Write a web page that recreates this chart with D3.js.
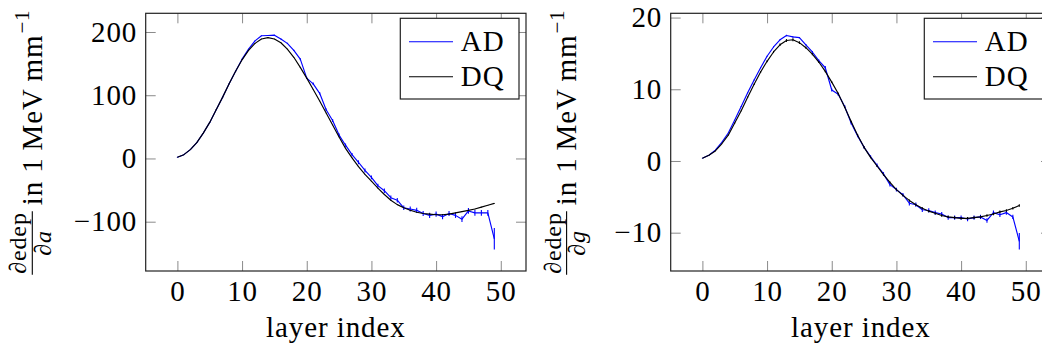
<!DOCTYPE html>
<html>
<head>
<meta charset="utf-8">
<script src="https://cdn.jsdelivr.net/npm/d3@7"></script>
<style>
  html, body { margin: 0; padding: 0; background: #fff; }
  svg { display: block; font-family: "Liberation Serif", "DejaVu Serif", serif; }
  text { letter-spacing: 0.9px; }
</style>
</head>
<body>
<svg id="chart" width="1042" height="351"></svg>
<script>
// Layer indices along the calorimeter
const layerIndex = d3.range(0, 50);

// Derivative of deposited energy w.r.t. parameter a
const adA = [2, 6, 14, 25, 40, 57, 77, 97, 118, 138,
             157, 173, 186, 194, 194.5, 195, 189, 182, 171, 157,
             127, 118, 103, 77, 60, 37, 21, 6, -6, -19,
             -30, -43, -51, -62, -66, -78, -80, -82, -87, -90,
             -88, -92, -87, -90, -96, -83, -86, -86, -86, -127];
const adAErr = [0.3, 0.3, 0.3, 0.4, 0.4, 0.5, 0.5, 0.5, 0.6, 0.6,
                0.6, 0.6, 0.6, 0.6, 0.6, 0.6, 0.8, 1, 1, 1.5,
                1.5, 2, 2, 2, 2.5, 2.5, 2.5, 2.5, 3, 3,
                3, 3, 3.5, 3.5, 3.5, 3.5, 4, 4, 4, 4,
                4, 4, 4, 4, 4.5, 4.5, 4.5, 4.5, 4.5, 17];
const dqA = [2, 6, 14, 25, 40, 57, 77, 97, 118, 138,
             156, 171, 182, 189, 191, 189, 183, 173, 160, 144,
             127, 109, 91, 72, 53, 34, 16, 1, -13, -25,
             -36, -47, -57, -66, -73, -78, -82, -85, -87, -88,
             -89, -89, -88, -86, -84, -82, -80, -77, -74, -71];
const dqAErr = [0.2, 0.2, 0.2, 0.2, 0.3, 0.3, 0.3, 0.3, 0.3, 0.3,
                0.4, 0.4, 0.4, 0.4, 0.4, 0.4, 0.4, 0.4, 0.4, 0.4,
                0.4, 0.4, 0.4, 0.4, 0.4, 0.4, 0.4, 0.4, 0.4, 0.4,
                0.5, 0.5, 0.5, 0.5, 0.5, 0.5, 0.5, 0.5, 0.5, 0.5,
                0.5, 0.5, 0.5, 0.5, 0.5, 0.5, 0.5, 0.5, 0.5, 0.5];

// Derivative of deposited energy w.r.t. parameter g
const adG = [0.37, 0.8, 1.5, 2.6, 3.9, 5.7, 7.6, 9.5, 11.3, 13.0,
             14.6, 15.9, 16.9, 17.5, 17.3, 17.2, 16.2, 15.2, 14.0, 13.0,
             9.9, 9.3, 7.6, 5.3, 3.5, 1.9, 0.6, -0.6, -1.8, -3.3,
             -4.0, -4.7, -5.9, -6.1, -6.8, -6.9, -7.2, -7.4, -7.9, -7.9,
             -7.9, -8.1, -7.9, -7.8, -8.3, -7.2, -7.5, -7.2, -7.8, -11.2];
const adGErr = [0.02, 0.03, 0.03, 0.04, 0.05, 0.05, 0.06, 0.06, 0.07, 0.07,
                0.08, 0.08, 0.08, 0.1, 0.1, 0.1, 0.1, 0.15, 0.15, 0.25,
                0.2, 0.2, 0.2, 0.2, 0.2, 0.2, 0.2, 0.25, 0.25, 0.25,
                0.25, 0.25, 0.3, 0.3, 0.3, 0.3, 0.3, 0.3, 0.3, 0.3,
                0.3, 0.3, 0.3, 0.3, 0.3, 0.3, 0.3, 0.3, 0.3, 1.15];
const dqG = [0.37, 0.8, 1.4, 2.4, 3.6, 5.3, 7.0, 8.9, 10.7, 12.4,
             13.9, 15.2, 16.2, 16.8, 16.9, 16.5, 15.8, 14.9, 13.8, 12.5,
             11.0, 9.4, 7.5, 5.5, 3.6, 1.9, 0.5, -0.7, -1.9, -3.0,
             -4.0, -4.8, -5.5, -6.1, -6.6, -7.0, -7.3, -7.6, -7.8, -7.9,
             -8.0, -8.0, -7.9, -7.8, -7.6, -7.4, -7.1, -6.9, -6.6, -6.2];
const dqGErr = [0.02, 0.03, 0.04, 0.05, 0.06, 0.07, 0.08, 0.09, 0.1, 0.12,
                0.14, 0.15, 0.18, 0.2, 0.2, 0.18, 0.15, 0.15, 0.12, 0.12,
                0.12, 0.12, 0.12, 0.12, 0.12, 0.12, 0.12, 0.12, 0.12, 0.12,
                0.12, 0.12, 0.14, 0.15, 0.15, 0.16, 0.16, 0.17, 0.17, 0.18,
                0.18, 0.18, 0.18, 0.18, 0.18, 0.18, 0.18, 0.18, 0.18, 0.18];

const xTicks = [0, 10, 20, 30, 40, 50];
const yTicksA = [-100, 0, 100, 200];
const yTicksG = [-10, 0, 10, 20];
const seriesNames = ["AD", "DQ"];
const seriesColors = ["#0000ff", "#000000"];

const svg = d3.select("#chart");
const FONT = 29;
const TICK = 10;

// axis limits: data range (error bars included) widened by 10% on each side
function paddedExtent(values) {
  const lo = d3.min(values), hi = d3.max(values);
  const pad = (hi - lo) * 0.1;
  return [lo - pad, hi + pad];
}

function drawPanel(p) {
  const g = svg.append("g");
  const xDom = paddedExtent(layerIndex);
  const allY = [];
  p.series.forEach(s => s.values.forEach((v, i) => { allY.push(v - s.err[i], v + s.err[i]); }));
  const yDom = paddedExtent(allY);

  const x = d3.scaleLinear().domain(xDom).range([p.left, p.right]);
  const y = d3.scaleLinear().domain(yDom).range([p.bottom, p.top]);

  // ticks on all four sides, pointing inward
  const tickStyle = sel => {
    sel.select(".domain").remove();
    sel.selectAll(".tick line").attr("stroke", "#8a8a8a").attr("stroke-width", 1);
    sel.selectAll(".tick text").attr("font-size", FONT).attr("fill", "#000")
       .attr("font-family", '"Liberation Serif", serif');
  };
  g.append("g").attr("transform", `translate(0,${p.bottom})`)
    .call(d3.axisBottom(x).tickValues(xTicks).tickSizeInner(-TICK).tickSizeOuter(0).tickPadding(9.5).tickFormat(d3.format("d")))
    .call(tickStyle);
  g.append("g").attr("transform", `translate(0,${p.top})`)
    .call(d3.axisTop(x).tickValues(xTicks).tickSizeInner(-TICK).tickSizeOuter(0).tickFormat(""))
    .call(tickStyle);
  g.append("g").attr("transform", `translate(${p.left},0)`)
    .call(d3.axisLeft(y).tickValues(p.yTicks).tickSizeInner(-TICK).tickSizeOuter(0).tickPadding(8.5).tickFormat(d3.format("d")))
    .call(tickStyle);
  g.append("g").attr("transform", `translate(${p.right},0)`)
    .call(d3.axisRight(y).tickValues(p.yTicks).tickSizeInner(-TICK).tickSizeOuter(0).tickFormat(""))
    .call(tickStyle);

  // series: error bars then polyline
  const line = d3.line().x((d, i) => x(layerIndex[i])).y(d => y(d));
  p.series.forEach((s, k) => {
    g.append("g").selectAll("line").data(s.values).join("line")
      .attr("x1", (d, i) => x(layerIndex[i])).attr("x2", (d, i) => x(layerIndex[i]))
      .attr("y1", (d, i) => y(d - s.err[i])).attr("y2", (d, i) => y(d + s.err[i]))
      .attr("stroke", seriesColors[k]).attr("stroke-width", 1.1);
    g.append("path").datum(s.values).attr("d", line)
      .attr("fill", "none").attr("stroke", seriesColors[k]).attr("stroke-width", 1.15)
      .attr("stroke-linejoin", "round");
  });

  // frame
  g.append("rect").attr("x", p.left).attr("y", p.top)
    .attr("width", p.right - p.left).attr("height", p.bottom - p.top)
    .attr("fill", "none").attr("stroke", "#222").attr("stroke-width", 1.2);

  // legend
  const lg = g.append("g").attr("transform", `translate(${p.legendX},${p.legendY})`);
  lg.append("rect").attr("width", 118.7).attr("height", 80.7)
    .attr("fill", "#fff").attr("stroke", "#222").attr("stroke-width", 1.2);
  seriesNames.forEach((name, k) => {
    const cy = 23.4 + k * 35;
    lg.append("line").attr("x1", 8.7).attr("x2", 52.7).attr("y1", cy).attr("y2", cy)
      .attr("stroke", seriesColors[k]).attr("stroke-width", 1.15);
    lg.append("text").attr("x", 60.5).attr("y", cy + 9.6)
      .attr("font-size", FONT).text(name);
  });

  // x-axis title
  g.append("text").attr("x", (p.left + p.right) / 2).attr("y", 336.5)
    .attr("text-anchor", "middle").attr("font-size", FONT).text("layer index");

  // y-axis title: ∂edep/∂param in 1 MeV mm^-1, reading upward
  const yl = g.append("g").attr("transform", `translate(${p.labelX},${(p.top + p.bottom) / 2}) rotate(-90)`);
  const small = 24;
  const num = yl.append("text").attr("font-size", small).attr("y", -15.5).text("\u2202edep");
  const den = yl.append("text").attr("font-size", small).attr("y", 9);
  den.append("tspan").text("\u2202");
  den.append("tspan").attr("font-style", "italic").text(p.param);
  const numW = num.node().getComputedTextLength();
  const denW = den.node().getComputedTextLength();
  const fracW = Math.max(numW, denW) + 2;
  const main = yl.append("text").attr("font-size", FONT).text("in 1\u2009MeV\u2009mm");
  const mainW = main.node().getComputedTextLength();
  const sup = yl.append("text").attr("font-size", 21).attr("y", -12.5).text("\u22121");
  const supW = sup.node().getComputedTextLength();
  const gap = 6;
  const total = fracW + gap + mainW + 1 + supW;
  const x0 = -total / 2;
  num.attr("x", x0 + (fracW - numW) / 2);
  den.attr("x", x0 + (fracW - denW) / 2);
  yl.append("line").attr("x1", x0).attr("x2", x0 + fracW).attr("y1", -9.4).attr("y2", -9.4)
    .attr("stroke", "#000").attr("stroke-width", 1.1);
  main.attr("x", x0 + fracW + gap);
  sup.attr("x", x0 + fracW + gap + mainW + 1);
}

drawPanel({
  left: 145.7, right: 526, top: 13.3, bottom: 271,
  yTicks: yTicksA, legendX: 400.3, legendY: 18.3, labelX: 41.7, param: "a",
  series: [{ values: adA, err: adAErr }, { values: dqA, err: dqAErr }]
});
drawPanel({
  left: 670.7, right: 1051, top: 13.3, bottom: 271,
  yTicks: yTicksG, legendX: 924.3, legendY: 18.3, labelX: 576, param: "g",
  series: [{ values: adG, err: adGErr }, { values: dqG, err: dqGErr }]
});
</script>
</body>
</html>
